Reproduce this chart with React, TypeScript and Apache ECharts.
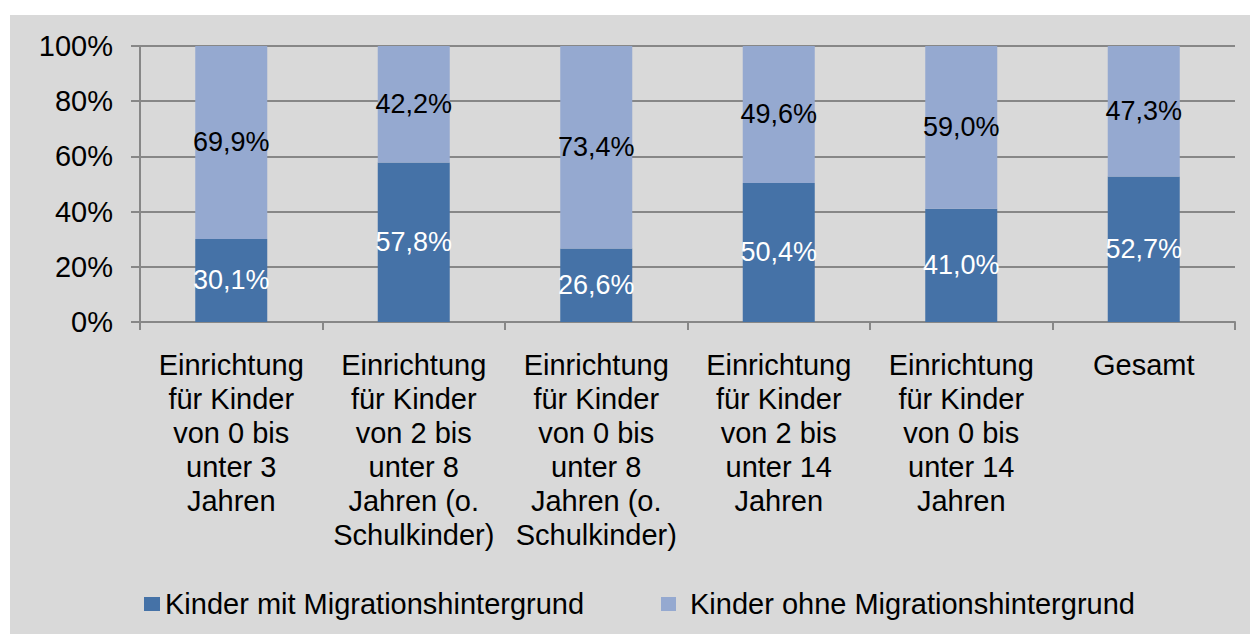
import React, { useEffect, useRef } from "react";
import * as echarts from "echarts";

const categories = [
  "Einrichtung\nfür Kinder\nvon 0 bis\nunter 3\nJahren",
  "Einrichtung\nfür Kinder\nvon 2 bis\nunter 8\nJahren (o.\nSchulkinder)",
  "Einrichtung\nfür Kinder\nvon 0 bis\nunter 8\nJahren (o.\nSchulkinder)",
  "Einrichtung\nfür Kinder\nvon 2 bis\nunter 14\nJahren",
  "Einrichtung\nfür Kinder\nvon 0 bis\nunter 14\nJahren",
  "Gesamt",
];
const seriesMitName = "Kinder mit Migrationshintergrund";
const seriesOhneName = "Kinder ohne Migrationshintergrund";
const mitValues = [30.1, 57.8, 26.6, 50.4, 41.0, 52.7];
const ohneValues = [69.9, 42.2, 73.4, 49.6, 59.0, 47.3];
const yTicks = { min: 0, max: 100, interval: 20 };

const FONT = "'Liberation Sans', Arial, sans-serif";
const GRAY = "#878787";

const fmt = (v: number) => v.toFixed(1).replace(".", ",") + "%";

export default function App() {
  const ref = useRef<HTMLDivElement>(null);
  useEffect(() => {
    if (!ref.current) return;
    const chart = echarts.init(ref.current, undefined, { renderer: "svg" });
    chart.setOption({
      animation: false,
      textStyle: { fontFamily: FONT },
      graphic: [
        {
          type: "rect",
          z: -100,
          silent: true,
          shape: { x: 10, y: 15, width: 1240, height: 619 },
          style: { fill: "#d9d9d9" },
        },
      ],
      grid: { left: 140, right: 15, top: 46, bottom: 312, containLabel: false },
      legend: [
        {
          left: 144,
          top: 587,
          padding: 0,
          itemWidth: 16,
          itemHeight: 14,
          icon: "rect",
          data: [seriesMitName],
          textStyle: { fontSize: 29, color: "#000", fontFamily: FONT, lineHeight: 34 },
        },
        {
          left: 661,
          top: 587,
          padding: 0,
          itemWidth: 15,
          itemHeight: 14,
          icon: "rect",
          data: [seriesOhneName],
          textStyle: {
            fontSize: 29,
            color: "#000",
            fontFamily: FONT,
            lineHeight: 34,
            padding: [0, 0, 0, 9],
          },
        },
      ],
      xAxis: {
        type: "category",
        data: categories,
        axisLine: { lineStyle: { color: GRAY, width: 2 } },
        axisTick: { show: true, length: 8, lineStyle: { color: GRAY, width: 2 } },
        axisLabel: {
          interval: 0,
          fontSize: 29,
          lineHeight: 34,
          color: "#000",
          fontFamily: FONT,
          margin: 26,
          verticalAlign: "top",
        },
      },
      yAxis: {
        type: "value",
        min: yTicks.min,
        max: yTicks.max,
        interval: yTicks.interval,
        axisLine: { show: true, lineStyle: { color: GRAY, width: 2 } },
        axisTick: { show: true, length: 9, lineStyle: { color: GRAY, width: 2 } },
        splitLine: { show: true, lineStyle: { color: GRAY, width: 2 } },
        axisLabel: {
          formatter: "{value}%",
          fontSize: 29,
          color: "#000",
          fontFamily: FONT,
          margin: 27,
        },
      },
      series: [
        {
          name: seriesMitName,
          type: "bar",
          stack: "total",
          barWidth: 72,
          data: mitValues,
          itemStyle: { color: "#4572a7" },
          label: {
            show: true,
            position: "inside",
            color: "#fff",
            fontSize: 27,
            fontFamily: FONT,
            formatter: (p: any) => fmt(p.value),
          },
        },
        {
          name: seriesOhneName,
          type: "bar",
          stack: "total",
          barWidth: 72,
          data: ohneValues,
          itemStyle: { color: "#95a9d0" },
          label: {
            show: true,
            position: "inside",
            color: "#000",
            fontSize: 27,
            fontFamily: FONT,
            formatter: (p: any) => fmt(p.value),
          },
        },
      ],
    });
    return () => chart.dispose();
  }, []);
  return (
    <div
      ref={ref}
      style={{ position: "absolute", left: 0, top: 0, width: 1250, height: 634 }}
    />
  );
}
